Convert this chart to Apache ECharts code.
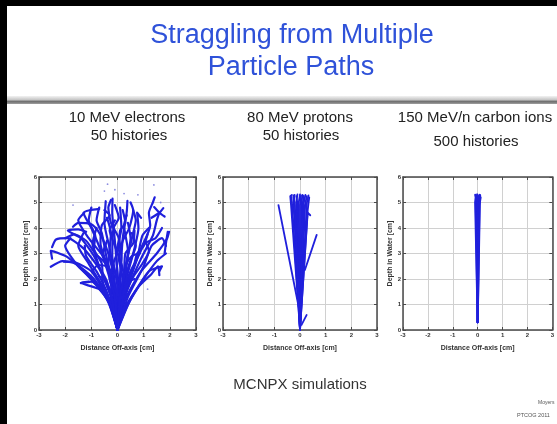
<!DOCTYPE html>
<html>
<head>
<meta charset="utf-8">
<script src="https://cdn.jsdelivr.net/npm/echarts@6/dist/echarts.min.js"></script>
<style>
  html, body { margin: 0; padding: 0; background: #fff; }
  #chart { width: 557px; height: 424px; }
</style>
</head>
<body>
<div id="chart"></div>
<script>
// panel headers
const panelTitles = ['10 MeV electrons', '80 MeV protons', '150 MeV/n carbon ions']
const panelSubtitles = ['50 histories', '50 histories', '500 histories']

// 10 MeV electrons: [x off-axis cm, depth cm]
const electronTracks = [
  [[0, 0], [-0.3, 1.0], [-0.9, 2.0], [-1.6, 2.6], [-2.1, 2.7], [-2.55, 2.48]],
  [[0, 0], [-0.4, 1.2], [-1.2, 2.2], [-1.9, 2.85], [-2.35, 3.05], [-2.55, 3.1], [-2.5, 2.8]],
  [[0, 0], [-0.2, 1.2], [-0.7, 2.4], [-1.3, 3.2], [-1.9, 3.6], [-2.35, 3.55], [-2.5, 3.25]],
  [[0, 0], [-0.3, 1.5], [-0.9, 2.9], [-1.4, 3.6], [-1.9, 3.9], [-1.5, 3.95], [-1.2, 3.85]],
  [[0, 0], [-0.2, 1.6], [-0.6, 3.0], [-1.0, 4.0], [-1.3, 4.6], [-1.05, 4.7], [-0.7, 4.75]],
  [[0, 0], [-0.1, 1.8], [-0.3, 3.2], [-0.5, 4.2], [-0.45, 5.05]],
  [[0, 0], [0.0, 2.0], [-0.1, 3.5], [-0.2, 4.6], [-0.19, 5.15]],
  [[0, 0], [0.1, 2.0], [0.2, 3.6], [0.35, 4.6], [0.38, 5.06]],
  [[0, 0], [0.2, 1.5], [0.6, 3.0], [0.8, 4.0], [0.75, 4.6], [0.9, 4.4]],
  [[0, 0], [0.3, 1.6], [0.9, 3.2], [1.25, 4.1], [1.2, 4.6], [1.35, 5.0], [1.42, 5.2]],
  [[0, 0], [0.3, 1.4], [0.9, 2.8], [1.35, 3.7], [1.5, 4.3], [1.6, 4.6]],
  [[0, 0], [0.3, 1.2], [0.9, 2.3], [1.5, 3.0], [1.9, 3.6], [1.97, 3.85]],
  [[0, 0], [0.3, 0.9], [0.8, 1.7], [1.3, 2.2], [1.55, 2.5], [1.6, 2.15]],
  [[0, 0], [0.4, 1.0], [1.0, 2.0], [1.5, 2.7], [1.85, 3.0]],
  [[0, 0], [-0.2, 0.9], [-0.7, 1.6], [-1.4, 1.85], [-1.1, 1.9]],
  [[0, 0], [-0.5, 1.5], [-1.5, 2.5], [-2.0, 3.3], [-1.8, 3.6]],
  [[0, 0], [-0.15, 1.5], [-0.45, 3.0], [-0.6, 3.8], [-0.8, 4.3], [-0.7, 4.8]],
  [[0, 0], [0.05, 1.5], [-0.05, 3.0], [0.15, 4.0], [0.1, 4.8]],
  [[0, 0], [-0.1, 1.2], [-0.35, 2.6], [-0.25, 3.8], [-0.4, 4.4]],
  [[0, 0], [0.1, 1.3], [0.35, 2.7], [0.5, 3.6], [0.4, 4.2]],
  [[0, 0], [0.15, 1.4], [0.45, 2.6], [0.7, 3.3], [0.55, 3.8]],
  [[0, 0], [-0.25, 1.3], [-0.7, 2.5], [-0.95, 3.4], [-0.8, 4.0]],
  [[0, 0], [-0.05, 1.0], [-0.3, 2.2], [-0.55, 3.0], [-0.4, 3.5]],
  [[0, 0], [0.2, 1.0], [0.55, 2.0], [0.95, 2.6], [1.2, 3.1], [1.05, 3.5]],
  [[0, 0], [0.1, 1.1], [0.25, 2.2], [0.3, 3.0], [0.6, 3.4], [0.65, 3.9]],
  [[0, 0], [-0.35, 1.2], [-1.0, 2.3], [-1.6, 2.65], [-2.05, 2.68]],
  [[0, 0], [-0.1, 1.4], [-0.5, 2.8], [-1.1, 3.6], [-1.5, 4.3], [-1.27, 4.6]],
  [[0, 0], [0.0, 1.7], [-0.2, 2.9], [-0.15, 4.0], [0.05, 4.4], [-0.1, 4.9]],
  [[0, 0], [0.25, 1.8], [0.4, 3.1], [0.25, 4.1], [0.35, 4.5]],
  [[0, 0], [0.35, 1.6], [0.75, 2.8], [0.95, 3.7], [1.2, 4.0]],
  [[0, 0], [-0.4, 1.4], [-1.1, 2.6], [-1.5, 3.3], [-1.3, 3.8]],
  [[0, 0], [-0.1, 0.8], [-0.5, 1.5], [-1.0, 1.9], [-1.4, 1.84]],
  [[0, 0], [0.05, 1.2], [0.15, 2.5], [-0.1, 3.3], [-0.3, 3.9], [-0.1, 4.3]],
  [[0, 0], [-0.2, 2.0], [-0.65, 3.4], [-0.6, 4.1], [-0.3, 4.5], [-0.5, 4.7]],
  [[1.3, 4.4], [1.6, 4.6], [1.75, 4.78]],
  [[1.4, 4.82], [1.6, 4.6], [1.8, 4.45]],
  [[0, 0], [0.2, 1.9], [0.55, 3.6], [0.7, 4.3], [0.6, 4.7]],
  [[0, 0], [0.5, 1.2], [1.2, 2.3], [1.7, 2.5], [1.6, 2.3]],
  [[0, 0], [-0.15, 0.7], [-0.45, 1.6], [-0.8, 2.3], [-1.2, 2.9], [-1.25, 3.3]],
  [[0, 0], [0.1, 0.8], [0.35, 1.7], [0.6, 2.4], [0.75, 3.0], [1.0, 3.3], [1.15, 3.75]],
  [[0, 0], [-0.05, 1.3], [-0.2, 2.4], [-0.45, 3.3], [-0.75, 3.9], [-1.0, 4.15], [-1.5, 4.2], [-1.7, 4.05]],
  [[0, 0], [0.05, 1.6], [0.15, 2.8], [0.05, 3.6], [-0.25, 4.2], [-0.35, 4.8], [-0.25, 5.1]],
  [[0, 0], [-0.1, 1.6], [-0.35, 2.5], [-0.85, 3.0], [-1.2, 3.5], [-1.65, 3.75], [-2.0, 3.6]],
  [[0, 0], [0.15, 1.0], [0.2, 2.0], [0.05, 2.8], [0.2, 3.5], [0.45, 4.0], [0.6, 4.7], [0.5, 5.0]],
  [[0, 0], [-0.25, 1.0], [-0.55, 1.8], [-0.6, 2.6], [-0.9, 3.2], [-0.85, 3.7], [-1.1, 4.3], [-1.0, 4.8]],
  [[0, 0], [0.2, 1.2], [0.45, 2.2], [0.8, 2.9], [1.05, 3.4], [1.45, 3.6], [1.7, 4.0]],
  [[0, 0], [-0.05, 0.9], [0.0, 1.8], [-0.15, 2.6], [0.05, 3.2], [0.1, 3.9], [0.3, 4.2], [0.2, 4.7]],
  [[0, 0], [0.05, 0.6], [0.15, 1.3], [0.35, 2.0], [0.3, 2.5], [0.55, 2.9], [0.85, 3.0]],
  [[0, 0], [-0.08, 0.8], [-0.25, 1.5], [-0.2, 2.1], [-0.45, 2.5], [-0.75, 2.55], [-0.95, 2.3]],
  [[1.92, 3.85], [1.85, 3.4], [1.8, 3.0]],
  [[0, 0], [0.4, 1.3], [1.0, 2.5], [1.3, 3.3], [1.7, 3.6], [1.85, 3.3]],
  [[0, 0], [-0.2, 1.2], [-0.4, 1.9], [-0.6, 2.3]],
  [[0, 0], [0.2, 1.1], [0.38, 1.8], [0.55, 2.25]],
  [[0, 0], [-0.28, 1.5], [-0.5, 2.0], [-0.7, 2.1]],
  [[0, 0], [0.25, 1.5], [0.45, 1.9], [0.65, 2.0]],
  [[0, 0], [-0.12, 1.4], [-0.3, 2.0], [-0.2, 2.5]],
  [[0, 0], [0.12, 1.5], [0.25, 2.1], [0.15, 2.6]]
]
const electronDots = [
  [-0.38, 5.72], [-0.5, 5.45], [1.39, 5.69], [0.78, 5.3], [0.25, 5.35],
  [-0.1, 5.5], [1.15, 1.6], [-0.4, 3.66], [1.65, 5.0], [-1.7, 4.9]
]

// 80 MeV protons
const protonTracks = [
  [[0, 0], [-0.35, 4.9], [-0.38, 5.25], [-0.32, 5.3]],
  [[0, 0], [-0.3, 4.8], [-0.33, 5.22]],
  [[0, 0], [-0.25, 5.0], [-0.21, 5.3]],
  [[0, 0], [-0.2, 4.9], [-0.26, 5.28]],
  [[0, 0], [-0.15, 5.0], [-0.1, 5.32]],
  [[0, 0], [-0.1, 4.95], [-0.14, 5.25]],
  [[0, 0], [-0.05, 5.0], [0.0, 5.32]],
  [[0, 0], [0.0, 4.9], [0.04, 5.28]],
  [[0, 0], [0.05, 5.0], [0.1, 5.3]],
  [[0, 0], [0.1, 4.9], [0.14, 5.26]],
  [[0, 0], [0.15, 5.0], [0.21, 5.3]],
  [[0, 0], [0.2, 4.9], [0.26, 5.25]],
  [[0, 0], [0.27, 5.0], [0.33, 5.28]],
  [[0, 0], [0.3, 4.6], [0.4, 4.5]],
  [[0, 0], [0.3, 4.7], [0.36, 5.2]],
  [[0, 0], [-0.18, 4.4], [-0.3, 4.9]],
  [[0, 0], [0.12, 4.5], [0.2, 4.9]],
  [[-0.05, 0.9], [-0.84, 4.9]],
  [[0.19, 2.35], [0.65, 3.73]],
  [[0.06, 0.2], [0.26, 0.59]]
]

// 150 MeV/n carbon ions
const carbonTracks = [
  [[0, 0.3], [-0.08, 5.2], [-0.1, 5.3]],
  [[0, 0.3], [-0.05, 5.25], [-0.02, 5.32]],
  [[0, 0.3], [0, 5.28]],
  [[0, 0.3], [0.05, 5.25], [0.08, 5.3]],
  [[0, 0.3], [0.09, 5.15], [0.1, 5.28]],
  [[0, 0.3], [-0.1, 5.0], [-0.06, 5.25]],
  [[0, 0.3], [0.07, 4.9], [0.12, 5.2]]
]

const xName = 'Distance Off-axis [cm]'
const yName = 'Depth in Water [cm]'

let mychart = echarts.init(document.getElementById('chart'))

const panels = [
  { left: 39, width: 157, tracks: electronTracks, dots: electronDots, smooth: 0.2, lw: 2.2, head: 127, sub: 129, subY: 136 },
  { left: 223, width: 154, tracks: protonTracks, dots: [], smooth: false, lw: 1.8, head: 300, sub: 301, subY: 136 },
  { left: 403, width: 154, tracks: carbonTracks, dots: [], smooth: false, lw: 2, head: 475, sub: 476, subY: 142 }
]

const blue = '#2020dc'
const axisColor = '#4a4a4a'
const labelFont = { fontSize: 6, fontWeight: 'bold', color: '#333', fontFamily: 'Liberation Sans' }
let grid = [], xAxis = [], yAxis = [], series = []
let texts = []

const textStyle = (text, size, color, align) => ({
  text: text, fill: color, font: size + 'px "Liberation Sans", Arial',
  textAlign: align, textVerticalAlign: 'middle', align: align, verticalAlign: 'middle'
})

panels.forEach((p, i) => {
  grid.push({ left: p.left, top: 177, width: p.width, height: 153 })
  // bottom + top x axes
  xAxis.push({
    type: 'value', gridIndex: i, min: -3, max: 3, interval: 1,
    name: xName, nameLocation: 'middle', nameGap: 15,
    nameTextStyle: { fontSize: 7, fontWeight: 'bold', color: '#333', fontFamily: 'Liberation Sans' },
    axisLine: { show: true, onZero: false, lineStyle: { color: axisColor, width: 1.5 } },
    axisTick: { show: true, inside: true, length: 3, lineStyle: { color: axisColor } },
    axisLabel: { ...labelFont, margin: 2 },
    splitLine: { show: true, lineStyle: { color: '#d0d0d0', width: 1 } }
  })
  xAxis.push({
    type: 'value', gridIndex: i, min: -3, max: 3, interval: 1, position: 'top',
    axisLine: { show: true, onZero: false, lineStyle: { color: axisColor, width: 1.5 } },
    axisTick: { show: true, inside: true, length: 3, lineStyle: { color: axisColor } },
    axisLabel: { show: false }, splitLine: { show: false }
  })
  yAxis.push({
    type: 'value', gridIndex: i, min: 0, max: 6, interval: 1,
    name: yName, nameLocation: 'middle', nameGap: 9,
    nameTextStyle: { fontSize: 7, fontWeight: 'bold', color: '#333', fontFamily: 'Liberation Sans' },
    axisLine: { show: true, onZero: false, lineStyle: { color: axisColor, width: 1.5 } },
    axisTick: { show: true, inside: true, length: 3, lineStyle: { color: axisColor } },
    axisLabel: { ...labelFont, margin: 2 },
    splitLine: { show: true, lineStyle: { color: '#d0d0d0', width: 1 } }
  })
  yAxis.push({
    type: 'value', gridIndex: i, min: 0, max: 6, interval: 1, position: 'right',
    axisLine: { show: true, onZero: false, lineStyle: { color: axisColor, width: 1.5 } },
    axisTick: { show: true, inside: true, length: 3, lineStyle: { color: axisColor } },
    axisLabel: { show: false }, splitLine: { show: false }
  })
  p.tracks.forEach(t => {
    series.push({
      type: 'line', xAxisIndex: i * 2, yAxisIndex: i * 2, data: t,
      showSymbol: false, smooth: p.smooth, silent: true,
      lineStyle: { color: blue, width: p.lw, cap: 'round', join: 'round' }
    })
  })
  if (p.dots.length) {
    series.push({
      type: 'scatter', xAxisIndex: i * 2, yAxisIndex: i * 2, data: p.dots,
      symbolSize: 1.8, itemStyle: { color: '#7070d8' }
    })
  }
  texts.push({ type: 'text', x: p.head, y: 118, style: textStyle(panelTitles[i], 15, '#222', 'center') })
  texts.push({ type: 'text', x: p.sub, y: p.subY, style: textStyle(panelSubtitles[i], 15, '#222', 'center') })
})

let options = {
  backgroundColor: '#fff',
  animation: false,
  grid: grid,
  xAxis: xAxis,
  yAxis: yAxis,
  series: series,
  graphic: [
    // slide frame (top + left black edges)
    { type: 'rect', shape: { x: 0, y: 0, width: 557, height: 6 }, style: { fill: '#000' } },
    { type: 'rect', shape: { x: 0, y: 0, width: 7, height: 424 }, style: { fill: '#000' } },
    // separator bar
    {
      type: 'rect', shape: { x: 7, y: 96, width: 550, height: 8 },
      style: {
        fill: new echarts.graphic.LinearGradient(0, 0, 0, 1, [
          { offset: 0, color: '#f2f2f2' }, { offset: 0.45, color: '#c8c8c8' },
          { offset: 0.7, color: '#6e6e6e' }, { offset: 1, color: '#a0a0a0' }
        ])
      }
    },
    { type: 'text', x: 292, y: 36, style: textStyle('Straggling from Multiple', 27, '#2f52d9', 'center') },
    { type: 'text', x: 291, y: 68, style: textStyle('Particle Paths', 27, '#2f52d9', 'center') },
    ...texts,
    { type: 'text', x: 300, y: 385, style: textStyle('MCNPX simulations', 15, '#333', 'center') },
    { type: 'text', x: 538, y: 403, style: textStyle('Moyers', 5, '#555', 'left') },
    { type: 'text', x: 517, y: 415, style: textStyle('PTCOG 2011', 5.5, '#555', 'left') }
  ]
}
mychart.setOption(options)
</script>
</body>
</html>
